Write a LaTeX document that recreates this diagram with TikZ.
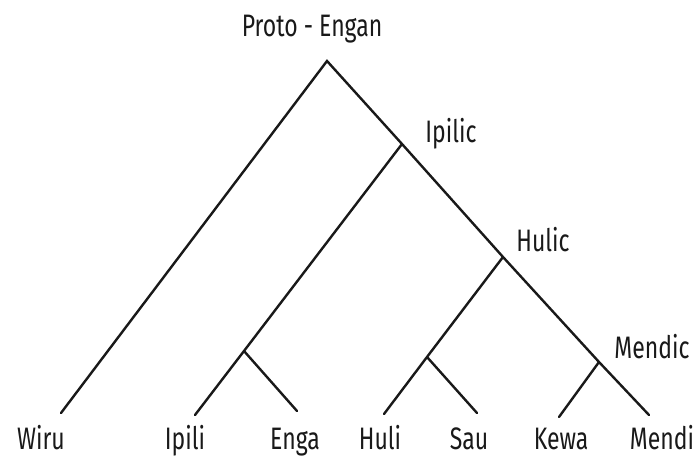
\documentclass[tikz,border=0pt]{standalone}
\usepackage{fontspec}
\setmainfont{Fira Sans}
\tikzset{
  tedge/.style={line width=2.4pt,black!90,line cap=round,line join=miter},
  lang/.style={font=\fontsize{23}{26}\selectfont,inner sep=0pt,anchor=base,
    yscale=1.35,text=black!90},
}
\begin{document}
\begin{tikzpicture}[x=1pt,y=-1pt]
  \useasboundingbox (0,0) rectangle (699,457);
  % branch points
  \coordinate (root)   at (327,61);
  \coordinate (ipilic) at (402,144);
  \coordinate (hulic)  at (503,257);
  \coordinate (mendic) at (599,362);
  \coordinate (ipeng)  at (244,351);
  \coordinate (husau)  at (427,357);
  % leaf ends
  \coordinate (wiruE)  at (61,413);
  \coordinate (ipiliE) at (195,415);
  \coordinate (engaE)  at (297,411);
  \coordinate (huliE)  at (384,414);
  \coordinate (sauE)   at (477,413);
  \coordinate (kewaE)  at (559,417);
  \coordinate (mendiE) at (649,415);
  % tree
  \draw[tedge] (wiruE) -- (root) -- (ipilic) -- (hulic) -- (mendic) -- (mendiE);
  \draw[tedge] (ipilic) -- (ipeng) -- (ipiliE);
  \draw[tedge] (ipeng) -- (engaE);
  \draw[tedge] (hulic) -- (husau) -- (huliE);
  \draw[tedge] (husau) -- (sauE);
  \draw[tedge] (mendic) -- (kewaE);
  % labels
  \node[lang] (protoL)  at (312,37)  {Proto - Engan};
  \node[lang] (ipilicL) at (451,143) {Ipilic};
  \node[lang] (hulicL)  at (543,252) {Hulic};
  \node[lang] (mendicL) at (652,358) {Mendic};
  \node[lang] (wiruL)   at (41,449)  {Wiru};
  \node[lang] (ipiliL)  at (185,449) {Ipili};
  \node[lang] (engaL)   at (295,449) {Enga};
  \node[lang] (huliL)   at (380,449) {Huli};
  \node[lang] (sauL)    at (469,449) {Sau};
  \node[lang] (kewaL)   at (561,449) {Kewa};
  \node[lang] (mendiL)  at (662,449) {Mendi};
\end{tikzpicture}
\end{document}
